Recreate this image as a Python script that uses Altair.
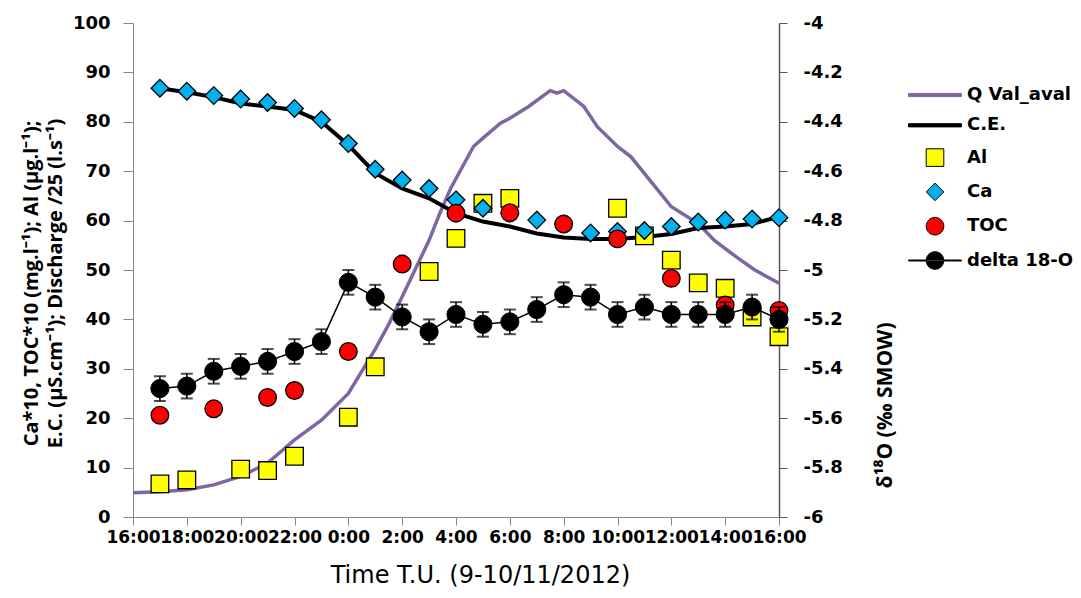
import altair as alt
import pandas as pd

# ---------------- data ----------------
series_names = ["Q Val_aval", "C.E.", "Al", "Ca", "TOC", "delta 18-O"]

# time in hours after 16:00 (9/11/2012)
hours = list(range(1, 25))

q_t = [0, 1, 2, 3, 4, 5, 6, 7, 8, 8.6, 9, 9.5, 10, 11, 11.4, 11.8, 12.65, 13, 13.65, 14,
       14.7, 15.5, 15.75, 16, 16.75, 17.25, 18, 18.5, 19.2, 20, 21, 21.6, 22.4, 23.1, 24]
q_v = [4.9, 5.1, 5.5, 6.5, 8.2, 10.9, 15.6, 19.6, 25, 30.4, 34, 39, 44.6, 56, 61.5, 66.5,
       75, 76.7, 79.7, 80.7, 83.1, 86.3, 85.8, 86.3, 83.1, 79, 75, 72.9, 68.2, 62.8, 59.4,
       56, 52.7, 50, 47.3]

ce_v = [86.8, 86.0, 85.0, 83.7, 83.1, 82.4, 80.0, 75.3, 69.6, 66.5, 64.5, 61.5, 59.8, 58.8,
        57.4, 56.6, 56.3, 56.3, 56.7, 57.3, 58.5, 58.8, 59.3, 60.8]

ca_v = [86.8, 86.2, 85.3, 84.6, 83.9, 82.7, 80.4, 75.6, 70.4, 68.2, 66.5, 64.2, 62.5, 61.5,
        60.1, 59.3, 57.5, 57.8, 58.0, 58.8, 59.7, 60.1, 60.3, 60.6]

al_t = [1, 2, 4, 5, 6, 8, 9, 11, 12, 13, 14, 18, 19, 20, 21, 22, 23, 24]
al_v = [6.7, 7.5, 9.7, 9.4, 12.3, 20.2, 30.4, 49.7, 56.4, 63.5, 64.5, 62.5, 56.9, 52.0,
        47.4, 46.3, 40.5, 36.5]

toc_t = [1, 3, 5, 6, 8, 10, 12, 14, 16, 18, 20, 22, 24]
toc_v = [20.6, 21.9, 24.2, 25.6, 33.5, 51.2, 61.5, 61.6, 59.3, 56.3, 48.3, 42.9, 41.8]

d18o_v = [-5.48, -5.47, -5.41, -5.39, -5.37, -5.33, -5.29, -5.05, -5.11, -5.19, -5.25, -5.18,
          -5.22, -5.21, -5.16, -5.10, -5.11, -5.18, -5.15, -5.18, -5.18, -5.18, -5.15, -5.20]
d18o_err = [0.05] * 24

x_ticks = list(range(0, 25, 2))
y_ticks = list(range(0, 101, 10))
r_ticks = [-6.0, -5.8, -5.6, -5.4, -5.2, -5.0, -4.8, -4.6, -4.4, -4.2, -4.0]

# ---------------- styles ----------------
PURPLE = "#7F65A3"
fill_range = [PURPLE, "black", "#FFFF00", "#00B0F0", "#FF0000", "black"]
stroke_range = [PURPLE, "black", "black", "black", "black", "black"]
circ = "M-1.1,0A1.1,1.1,0,1,0,1.1,0A1.1,1.1,0,1,0,-1.1,0Z"
shape_range = [
    "M-3.3,-0.2H3.3V0.2H-3.3Z",
    "M-3.3,-0.2H3.3V0.2H-3.3Z",
    "M-1.1,-1.1H1.1V1.1H-1.1Z",
    "M0,-1.1L1.1,0L0,1.1L-1.1,0Z",
    circ,
    "M-3.3,-0.06H3.3V0.06H-3.3Z M-1.1,0A1.1,1.1,0,1,0,1.1,0A1.1,1.1,0,1,0,-1.1,0Z",
]

q_df = pd.DataFrame({"t": q_t, "v": q_v})
ce_df = pd.DataFrame({"t": hours, "v": ce_v})
pts_df = pd.concat([
    pd.DataFrame({"t": al_t, "v": al_v, "series": "Al"}),
    pd.DataFrame({"t": hours, "v": ca_v, "series": "Ca"}),
    pd.DataFrame({"t": toc_t, "v": toc_v, "series": "TOC"}),
], ignore_index=True)
d_df = pd.DataFrame({"t": hours, "d": d18o_v, "e": d18o_err})
d_df["lo"] = d_df["d"] - d_df["e"]
d_df["hi"] = d_df["d"] + d_df["e"]

xscale = alt.Scale(domain=[0, 24], nice=False, zero=False)
x_axis = alt.Axis(
    values=x_ticks,
    labelExpr="((datum.value + 16) % 24) + ':00'",
    labelOverlap=False, labelFlush=False,
    labelFont="DejaVu Sans", labelFontSize=17, labelFontWeight="bold", labelColor="black",
    labelPadding=4, tickSize=8, tickColor="#868686", domainColor="#868686",
    grid=False,
    title="Time T.U. (9-10/11/2012)", titleFont="DejaVu Sans", titleFontSize=24,
    titleFontWeight="normal", titleColor="black",
    titleX=347, titleY=65, titleAnchor="middle", titleAlign="center", titleBaseline="alphabetic",
)

yscale = alt.Scale(domain=[0, 100], nice=False, zero=False)
y_axis = alt.Axis(
    values=y_ticks, grid=False, labelFlush=False,
    labelFont="DejaVu Sans", labelFontSize=18, labelFontWeight="bold", labelColor="black",
    labelPadding=13, tickSize=10, tickColor="#868686", domainColor="#868686",
    title=["Ca*10, TOC*10 (mg.l\u207b\u00b9); Al (\u00b5g.l\u207b\u00b9);",
           "E.C. (\u00b5S.cm\u207b\u00b9); Discharge /25 (l.s\u207b\u00b9)"],
    titleFont="Open Sans", titleFontSize=20, titleFontWeight="bold", titleColor="black",
    titleAngle=270, titleX=-102, titleY=260, titleAlign="center", titleBaseline="middle",
    titleLineHeight=24,
)

rscale = alt.Scale(domain=[-6, -4], nice=False, zero=False)
r_axis = alt.Axis(
    orient="right", values=r_ticks, grid=False, labelFlush=False,
    labelExpr="'' + round(datum.value * 10) / 10",
    labelFont="DejaVu Sans", labelFontSize=18, labelFontWeight="bold", labelColor="black",
    labelPadding=16, tickSize=8, tickColor="#595959", domainColor="#595959", domainWidth=1.5,
    title="\u03b4\u00b9\u2078O (\u2030 SMOW)", titleFont="Open Sans", titleFontSize=21,
    titleFontWeight="bold", titleColor="black",
    titleAngle=270, titleX=106, titleY=382, titleAlign="center", titleBaseline="middle",
)

X = alt.X("t:Q", scale=xscale, axis=x_axis)

leg = alt.Legend(
    title=None, orient="none", legendX=793, legendY=63,
    symbolSize=256, symbolStrokeWidth=1, labelOffset=23, rowPadding=12.3,
    labelFont="DejaVu Sans", labelFontSize=18, labelFontWeight="bold", labelColor="black",
    labelLimit=400, padding=0,
)

YL = alt.Y("v:Q", scale=yscale, axis=y_axis)

q_line = alt.Chart(q_df).mark_line(color=PURPLE, strokeWidth=3.5).encode(x=X, y=YL)
ce_line = alt.Chart(ce_df).mark_line(color="black", strokeWidth=4).encode(x=X, y=YL)
pts = alt.Chart(pts_df).mark_point(filled=True, size=256, opacity=1, strokeWidth=1.3).encode(
    x=X, y=YL,
    shape=alt.Shape("series:N", scale=alt.Scale(domain=series_names, range=shape_range), legend=leg),
    fill=alt.Fill("series:N", scale=alt.Scale(domain=series_names, range=fill_range), legend=leg),
    stroke=alt.Stroke("series:N", scale=alt.Scale(domain=series_names, range=stroke_range), legend=leg),
)

left = alt.layer(q_line, ce_line, pts)

d_line = alt.Chart(d_df).mark_line(color="black", strokeWidth=1.5).encode(
    x=X, y=alt.Y("d:Q", scale=rscale, axis=r_axis))
d_rule = alt.Chart(d_df).mark_rule(color="black", strokeWidth=1.5).encode(
    x=X, y=alt.Y("lo:Q", scale=rscale, axis=r_axis), y2="hi:Q")
d_cap_lo = alt.Chart(d_df).mark_tick(color="black", orient="horizontal", size=12, thickness=2).encode(
    x=X, y=alt.Y("lo:Q", scale=rscale, axis=r_axis))
d_cap_hi = alt.Chart(d_df).mark_tick(color="black", orient="horizontal", size=12, thickness=2).encode(
    x=X, y=alt.Y("hi:Q", scale=rscale, axis=r_axis))
d_pts = alt.Chart(d_df).mark_point(filled=True, shape="circle", size=330, opacity=1,
                                   color="black", stroke="black", strokeWidth=1).encode(
    x=X, y=alt.Y("d:Q", scale=rscale, axis=r_axis))

right = alt.layer(d_line, d_rule, d_cap_lo, d_cap_hi, d_pts)

chart = alt.layer(left, right).resolve_scale(y="independent").properties(
    width=646, height=494,
    padding={"left": 125, "top": 15, "right": 294, "bottom": 73},
    autosize=alt.AutoSizeParams(type="none"),
    background="white",
).configure_view(stroke=None)

chart.save("out.html", embed_options={"renderer": "svg", "actions": False})
